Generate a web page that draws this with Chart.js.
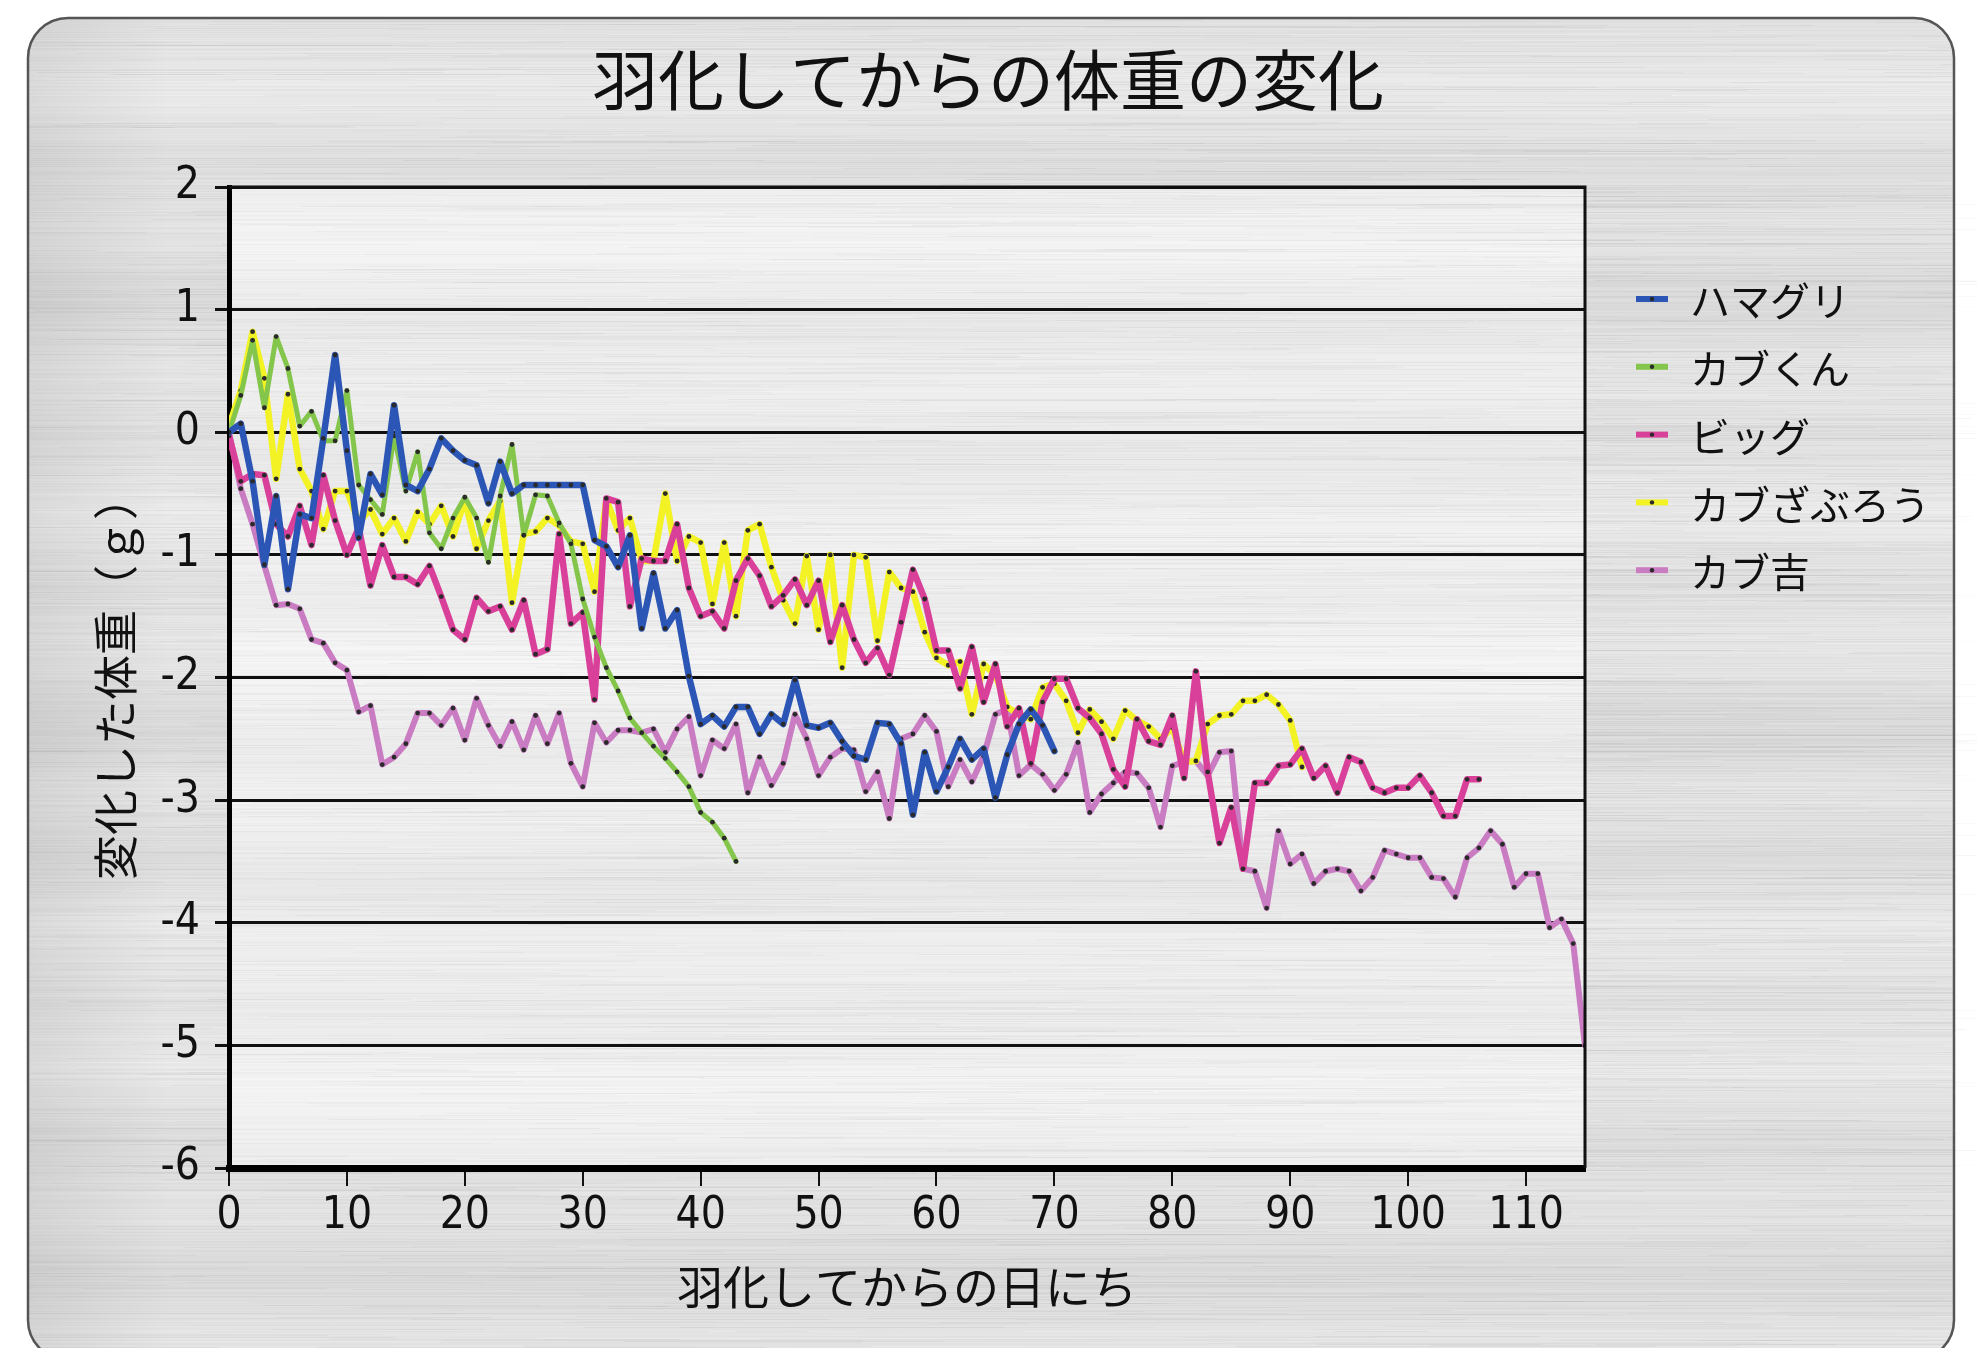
<!DOCTYPE html>
<html>
<head>
<meta charset="utf-8">
<script src="https://cdn.jsdelivr.net/npm/chart.js@4.4.1/dist/chart.umd.min.js"></script>
<style>
  html, body { margin: 0; padding: 0; background: #ffffff; }
  canvas { display: block; }
</style>
</head>
<body>
<canvas id="chart" width="1977" height="1348"></canvas>
<script>
// 羽化してからの日数（0日目〜115日目）
const days = Array.from({ length: 116 }, (_, i) => i);
const xTicks = [0, 10, 20, 30, 40, 50, 60, 70, 80, 90, 100, 110];

// 各個体の体重変化（g）
const hamaguri = [0, 0.07, -0.4, -1.08, -0.52, -1.28, -0.67, -0.7, -0.05, 0.63,
  -0.15, -0.86, -0.34, -0.51, 0.22, -0.43, -0.48, -0.3, -0.05, -0.15,
  -0.23, -0.27, -0.58, -0.24, -0.5, -0.43, -0.43, -0.43, -0.43, -0.43,
  -0.43, -0.88, -0.93, -1.1, -0.84, -1.6, -1.15, -1.6, -1.45, -1.99,
  -2.38, -2.31, -2.4, -2.24, -2.24, -2.46, -2.3, -2.38, -2.02, -2.39,
  -2.41, -2.37, -2.52, -2.64, -2.67, -2.37, -2.38, -2.54, -3.12, -2.61,
  -2.93, -2.73, -2.5, -2.67, -2.58, -2.98, -2.63, -2.38, -2.26, -2.39, -2.6];

const kabukun = [0, 0.3, 0.75, 0.2, 0.78, 0.52, 0.05, 0.17, -0.07, -0.07,
  0.34, -0.43, -0.55, -0.67, -0.03, -0.48, -0.16, -0.82, -0.95, -0.7,
  -0.53, -0.7, -1.06, -0.52, -0.1, -0.84, -0.51, -0.52, -0.74, -0.91,
  -1.36, -1.67, -1.92, -2.11, -2.33, -2.45, -2.56, -2.66, -2.77, -2.89,
  -3.1, -3.18, -3.31, -3.5];

const biggu = [-0.03, -0.4, -0.34, -0.35, -0.75, -0.85, -0.6, -0.92, -0.35, -0.72,
  -1.0, -0.78, -1.25, -0.92, -1.18, -1.18, -1.24, -1.09, -1.34, -1.61,
  -1.69, -1.35, -1.46, -1.42, -1.61, -1.37, -1.81, -1.77, -0.83, -1.56,
  -1.47, -2.18, -0.54, -0.57, -1.42, -1.03, -1.05, -1.05, -0.75, -1.27,
  -1.5, -1.46, -1.6, -1.21, -1.03, -1.17, -1.42, -1.33, -1.2, -1.41,
  -1.21, -1.71, -1.41, -1.69, -1.88, -1.76, -1.98, -1.55, -1.12, -1.36,
  -1.78, -1.78, -2.09, -1.75, -2.2, -1.89, -2.4, -2.25, -2.7, -2.2,
  -2.01, -2.01, -2.25, -2.33, -2.46, -2.75, -2.89, -2.34, -2.52, -2.55,
  -2.31, -2.82, -1.95, -2.77, -3.35, -3.06, -3.56, -2.86, -2.86, -2.72,
  -2.71, -2.58, -2.82, -2.72, -2.94, -2.65, -2.69, -2.9, -2.94, -2.9,
  -2.9, -2.8, -2.94, -3.13, -3.13, -2.83, -2.83];

const kabuzaburou = [0.05, 0.34, 0.82, 0.44, -0.38, 0.31, -0.3, -0.48, -0.79, -0.48,
  -0.48, -0.73, -0.63, -0.83, -0.7, -0.89, -0.65, -0.75, -0.6, -0.85,
  -0.55, -0.95, -0.72, -0.56, -1.39, -0.83, -0.81, -0.7, -0.76, -0.89,
  -0.91, -1.3, -0.55, -0.8, -0.7, -1.05, -1.05, -0.5, -1.05, -0.85,
  -0.9, -1.4, -0.9, -1.5, -0.8, -0.75, -1.1, -1.37, -1.56, -1.01,
  -1.61, -1.0, -1.92, -1.0, -1.02, -1.7, -1.14, -1.27, -1.3, -1.63,
  -1.84, -1.9, -1.87, -2.3, -1.89, -1.98, -2.24, -2.3, -2.34, -2.08,
  -2.05, -2.19, -2.45, -2.26, -2.36, -2.5, -2.27, -2.35, -2.4, -2.5,
  -2.41, -2.69, -2.68, -2.38, -2.31, -2.3, -2.19, -2.19, -2.14, -2.22,
  -2.35, -2.73];

const kabukichi = [0, -0.46, -0.75, -1.09, -1.41, -1.4, -1.44, -1.69, -1.72, -1.88,
  -1.94, -2.28, -2.23, -2.71, -2.65, -2.54, -2.29, -2.29, -2.39, -2.25,
  -2.51, -2.17, -2.39, -2.56, -2.36, -2.59, -2.31, -2.54, -2.29, -2.7,
  -2.89, -2.37, -2.53, -2.43, -2.43, -2.45, -2.42, -2.61, -2.42, -2.32,
  -2.8, -2.51, -2.58, -2.38, -2.94, -2.65, -2.88, -2.7, -2.3, -2.5,
  -2.8, -2.65, -2.58, -2.59, -2.93, -2.77, -3.15, -2.5, -2.46, -2.31,
  -2.44, -2.89, -2.67, -2.85, -2.64, -2.3, -2.26, -2.8, -2.71, -2.79,
  -2.92, -2.79, -2.53, -3.1, -2.95, -2.86, -2.77, -2.78, -2.9, -3.22,
  -2.72, -2.69, -2.68, -2.8, -2.61, -2.6, -3.56, -3.58, -3.88, -3.25,
  -3.52, -3.44, -3.68, -3.58, -3.56, -3.58, -3.74, -3.63, -3.41, -3.44,
  -3.47, -3.47, -3.63, -3.64, -3.79, -3.47, -3.39, -3.25, -3.36, -3.71,
  -3.6, -3.6, -4.04, -3.97, -4.17, -5.0];

const seriesNames = ['ハマグリ', 'カブくん', 'ビッグ', 'カブざぶろう', 'カブ吉'];
const seriesValues = [hamaguri, kabukun, biggu, kabuzaburou, kabukichi];
const seriesColors = ['#2b56b5', '#84c64b', '#d8409a', '#f2f224', '#c97cc2'];
const seriesWidths = [6.5, 5, 6.5, 6.5, 6];

const chartTitle = '羽化してからの体重の変化';
const xTitle = '羽化してからの日にち';
const yTitle = '変化した体重（ｇ）';

const tickFont = "'Liberation Sans Narrow', 'DejaVu Sans Condensed', 'Liberation Sans', sans-serif";
const jpFont = "'Noto Sans CJK JP', 'Noto Sans', sans-serif";

// deterministic hash for the brushed-metal streaks
function h(n) {
  const s = Math.sin(n * 127.1 + 311.7) * 43758.5453;
  return s - Math.floor(s);
}

function roundRect(ctx, x, y, w, hgt, r) {
  ctx.beginPath();
  ctx.moveTo(x + r, y);
  ctx.lineTo(x + w - r, y);
  ctx.arcTo(x + w, y, x + w, y + r, r);
  ctx.lineTo(x + w, y + hgt - r);
  ctx.arcTo(x + w, y + hgt, x + w - r, y + hgt, r);
  ctx.lineTo(x + r, y + hgt);
  ctx.arcTo(x, y + hgt, x, y + hgt - r, r);
  ctx.lineTo(x, y + r);
  ctx.arcTo(x, y, x + r, y, r);
  ctx.closePath();
}

function brushed(ctx, x0, y0, w, hgt, baseLevel, spread, alpha, seed) {
  for (let y = Math.floor(y0); y < y0 + hgt; y++) {
    const slow = Math.sin(y * 0.045 + seed) * 0.5 + Math.sin(y * 0.013 + seed * 2) * 0.5;
    const g = Math.round(baseLevel + spread * 0.5 * slow + spread * 0.5 * (h(y + seed) - 0.5));
    ctx.fillStyle = `rgb(${g},${g},${g})`;
    ctx.fillRect(x0, y, w, 1);
    for (let k = 0; k < 5; k++) {
      const r1 = h(y * 13.1 + k * 7.3 + seed);
      const r2 = h(y * 29.7 + k * 3.1 + seed);
      const r3 = h(y * 5.3 + k * 11.7 + seed);
      const sx = x0 - 100 + r1 * (w + 100);
      const len = 60 + r2 * 520;
      const light = r3 > 0.45;
      const a = (Math.abs(r3 - 0.5) * alpha).toFixed(3);
      ctx.fillStyle = light ? `rgba(255,255,255,${a})` : `rgba(110,110,110,${a})`;
      ctx.fillRect(sx, y, len, 1);
    }
  }
}

const panelPlugin = {
  id: 'panel',
  beforeDraw(chart) {
    const ctx = chart.ctx;
    const { left, right, top, bottom } = chart.chartArea;
    ctx.save();
    ctx.fillStyle = '#ffffff';
    ctx.fillRect(0, 0, chart.width, chart.height);

    const px = 28, py = 18, pw = 1926, ph = 1342, pr = 40;
    roundRect(ctx, px, py, pw, ph, pr);
    ctx.save();
    ctx.clip();
    brushed(ctx, px, py, pw, ph, 226, 16, 0.16, 3.7);
    // slight darkening toward the left edge
    const grad = ctx.createLinearGradient(px, 0, px + 140, 0);
    grad.addColorStop(0, 'rgba(120,120,120,0.14)');
    grad.addColorStop(1, 'rgba(120,120,120,0)');
    ctx.fillStyle = grad;
    ctx.fillRect(px, py, 140, ph);
    ctx.restore();
    roundRect(ctx, px, py, pw, ph, pr);
    ctx.strokeStyle = '#555';
    ctx.lineWidth = 2.5;
    ctx.stroke();

    // lighter plot area
    brushed(ctx, left, top, right - left, bottom - top, 238, 12, 0.12, 9.1);
    ctx.restore();
  },
  afterDraw(chart) {
    const ctx = chart.ctx;
    const { left, right, top, bottom } = chart.chartArea;
    ctx.save();
    // right and top frame of the plot area
    ctx.strokeStyle = '#111';
    ctx.lineWidth = 3;
    ctx.beginPath();
    ctx.moveTo(left, top);
    ctx.lineTo(right, top);
    ctx.lineTo(right, bottom);
    ctx.stroke();

    // title
    ctx.fillStyle = '#111';
    ctx.font = `66px ${jpFont}`;
    ctx.textAlign = 'center';
    ctx.textBaseline = 'middle';
    ctx.fillText(chartTitle, 988, 80);

    // legend
    ctx.font = `40px ${jpFont}`;
    ctx.textAlign = 'left';
    chart.data.datasets.forEach((ds, i) => {
      const y = 299 + i * 67.8;
      ctx.strokeStyle = ds.borderColor;
      ctx.lineWidth = 6;
      ctx.beginPath();
      ctx.moveTo(1636, y);
      ctx.lineTo(1668, y);
      ctx.stroke();
      ctx.fillStyle = '#2a2a2a';
      ctx.beginPath();
      ctx.arc(1652, y, 2.2, 0, Math.PI * 2);
      ctx.fill();
      ctx.fillStyle = '#111';
      ctx.fillText(ds.label, 1690, y + 2);
    });
    ctx.restore();
  }
};

const datasets = seriesNames.map((name, i) => ({
  label: name,
  data: seriesValues[i],
  borderColor: seriesColors[i],
  backgroundColor: seriesColors[i],
  borderWidth: seriesWidths[i],
  borderJoinStyle: 'round',
  borderCapStyle: 'round',
  pointRadius: 2.4,
  pointBackgroundColor: '#2a2a2a',
  pointBorderWidth: 0,
  tension: 0,
  fill: false
}));

new Chart(document.getElementById('chart'), {
  type: 'line',
  data: { labels: days, datasets },
  plugins: [panelPlugin],
  options: {
    responsive: false,
    animation: false,
    devicePixelRatio: 1,
    layout: { padding: { left: 0, top: 187, right: 392, bottom: 0 } },
    plugins: {
      legend: { display: false },
      title: { display: false },
      tooltip: { enabled: false }
    },
    scales: {
      x: {
        type: 'linear',
        min: 0,
        max: 115,
        ticks: {
          color: '#111',
          padding: 4,
          maxRotation: 0,
          autoSkip: false,
          font: { family: tickFont, size: 44 }
        },
        afterBuildTicks: (scale) => {
          scale.ticks = xTicks.map(v => ({ value: v }));
        },
        afterFit: (scale) => { scale.height = 180; },
        grid: {
          display: true,
          drawOnChartArea: false,
          drawTicks: true,
          tickLength: 18,
          color: '#111',
          lineWidth: 2
        },
        border: { display: true, color: '#000', width: 7 },
        title: {
          display: true,
          text: xTitle,
          color: '#111',
          font: { family: jpFont, size: 46 },
          padding: { top: 0, bottom: 34 }
        }
      },
      y: {
        min: -6,
        max: 2,
        ticks: {
          stepSize: 1,
          color: '#111',
          padding: 15,
          font: { family: tickFont, size: 44 }
        },
        afterFit: (scale) => { scale.width = 229; },
        grid: {
          display: true,
          drawTicks: true,
          tickLength: 14,
          color: '#111',
          lineWidth: 3
        },
        border: { display: true, color: '#000', width: 5 },
        title: {
          display: true,
          text: yTitle,
          color: '#111',
          font: { family: jpFont, size: 45 },
          padding: { top: 89, bottom: 0 }
        }
      }
    }
  }
});
</script>
</body>
</html>
